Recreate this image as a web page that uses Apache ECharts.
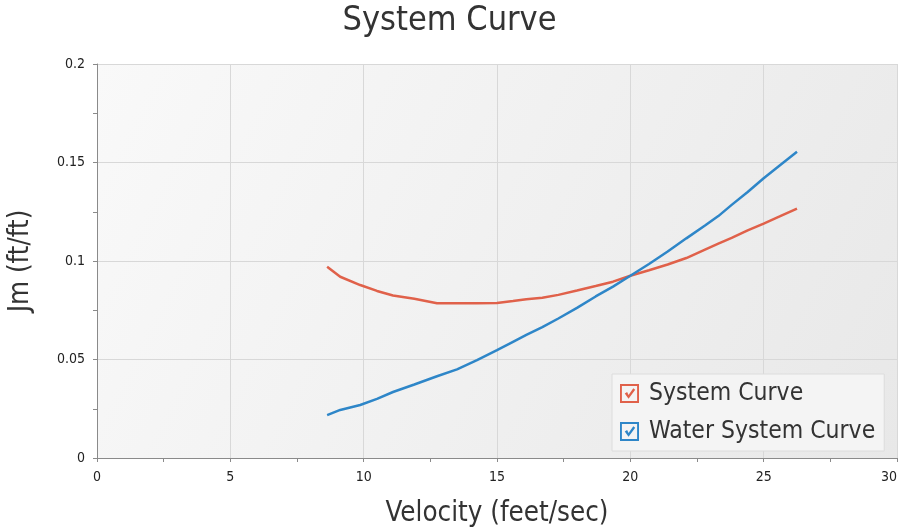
<!DOCTYPE html>
<html><head><meta charset="utf-8">
<script src="https://cdn.jsdelivr.net/npm/echarts@6/dist/echarts.min.js"></script>
<style>html,body{margin:0;padding:0;background:#fff}#c{width:899px;height:529px}</style>
</head><body><div id="c"></div>
<script>
const velocity = [8.63, 9.12, 9.87, 10.5, 11.1, 11.9, 12.75, 13.5, 14.25, 15.0, 15.6, 16.1, 16.7, 17.3, 18.0, 18.7, 19.35, 20.0, 20.7, 21.4, 22.1, 22.8, 23.3, 23.8, 24.4, 25.0, 25.6, 26.25];
const systemCurve = [0.0971, 0.0920, 0.0878, 0.0848, 0.0825, 0.0808, 0.0786, 0.0786, 0.0786, 0.0787, 0.0797, 0.0806, 0.0813, 0.0828, 0.0850, 0.0873, 0.0895, 0.0925, 0.0953, 0.0982, 0.1015, 0.1058, 0.1088, 0.1117, 0.1155, 0.1190, 0.1226, 0.1266];
const waterSystemCurve = [0.0218, 0.0244, 0.0269, 0.0300, 0.0335, 0.0373, 0.0415, 0.0450, 0.0497, 0.0548, 0.0590, 0.0625, 0.0664, 0.0708, 0.0762, 0.0820, 0.0870, 0.0925, 0.0985, 0.1048, 0.1115, 0.1180, 0.1228, 0.1285, 0.1350, 0.1420, 0.1485, 0.1555];
const seriesNames = ['System Curve', 'Water System Curve'];
const title = 'System Curve';
const xName = 'Velocity (feet/sec)';
const yName = 'Jm (ft/ft)';

const FONT = '"DejaVu Sans Condensed", Tahoma, "DejaVu Sans", sans-serif';
const checkIcon = 'path://M0,0 L20,0 L20,20 L0,20 Z M2,2 L2,18 L18,18 L18,2 Z M5,10 L7.5,8.5 L9,11.5 L14,4.5 L16,6 L9,15.5 Z';
const colors = ['#E0614A', '#2E86C8'];

const chart = echarts.init(document.getElementById('c'), null, {renderer: 'canvas'});
chart.setOption({
  animation: false,
  color: colors,
  title: {
    text: title, left: 'center', top: -1,
    textStyle: {fontFamily: FONT, fontSize: 34, fontWeight: 'normal', color: '#333'}
  },
  grid: {
    left: 97, right: 2, top: 64, bottom: 71, show: true, borderWidth: 0,
    outerBoundsMode: 'none', containLabel: false,
    backgroundColor: new echarts.graphic.LinearGradient(0, 0, 1, 1, [
      {offset: 0, color: '#f9f9f9'}, {offset: 1, color: '#e8e8e8'}
    ])
  },
  legend: {
    orient: 'vertical', left: 612, top: 374,
    data: seriesNames,
    icon: checkIcon, itemWidth: 19, itemHeight: 19, itemGap: 13,
    backgroundColor: '#f4f4f4', borderColor: '#dcdcdc', borderWidth: 1, borderRadius: 0,
    padding: [7, 9, 7, 8],
    textStyle: {fontFamily: FONT, fontSize: 24.5, color: '#333', padding: [0, 0, 0, 5]},
    inactiveColor: '#ccc'
  },
  xAxis: {
    type: 'value', min: 0, max: 30, interval: 5,
    name: xName, nameLocation: 'middle', nameGap: 42,
    nameTextStyle: {fontFamily: FONT, fontSize: 27.5, color: '#333'},
    axisLine: {show: true, lineStyle: {color: '#8a8a8a', width: 1}},
    axisTick: {show: true, length: 4, lineStyle: {color: '#8a8a8a'}},
    minorTick: {show: true, splitNumber: 2, length: 4, lineStyle: {color: '#8a8a8a'}},
    axisLabel: {fontFamily: FONT, fontSize: 14, color: '#222', margin: 12, alignMaxLabel: 'right'},
    splitLine: {show: true, lineStyle: {color: '#d8d8d8', width: 1}}
  },
  yAxis: {
    type: 'value', min: 0, max: 0.2, interval: 0.05,
    name: yName, nameLocation: 'middle', nameGap: 62, nameRotate: 90,
    nameTextStyle: {fontFamily: FONT, fontSize: 27.5, color: '#333'},
    axisLine: {show: true, lineStyle: {color: '#8a8a8a', width: 1}},
    axisTick: {show: true, length: 4, lineStyle: {color: '#8a8a8a'}},
    minorTick: {show: true, splitNumber: 2, length: 4, lineStyle: {color: '#8a8a8a'}},
    axisLabel: {fontFamily: FONT, fontSize: 14, color: '#222', margin: 12},
    splitLine: {show: true, lineStyle: {color: '#d8d8d8', width: 1}}
  },
  series: [
    {name: seriesNames[0], type: 'line', data: velocity.map((v, i) => [v, systemCurve[i]]),
     showSymbol: false, symbol: 'none', lineStyle: {width: 2.5, color: colors[0]}},
    {name: seriesNames[1], type: 'line', data: velocity.map((v, i) => [v, waterSystemCurve[i]]),
     showSymbol: false, symbol: 'none', lineStyle: {width: 2.5, color: colors[1]}}
  ]
});
</script></body></html>
